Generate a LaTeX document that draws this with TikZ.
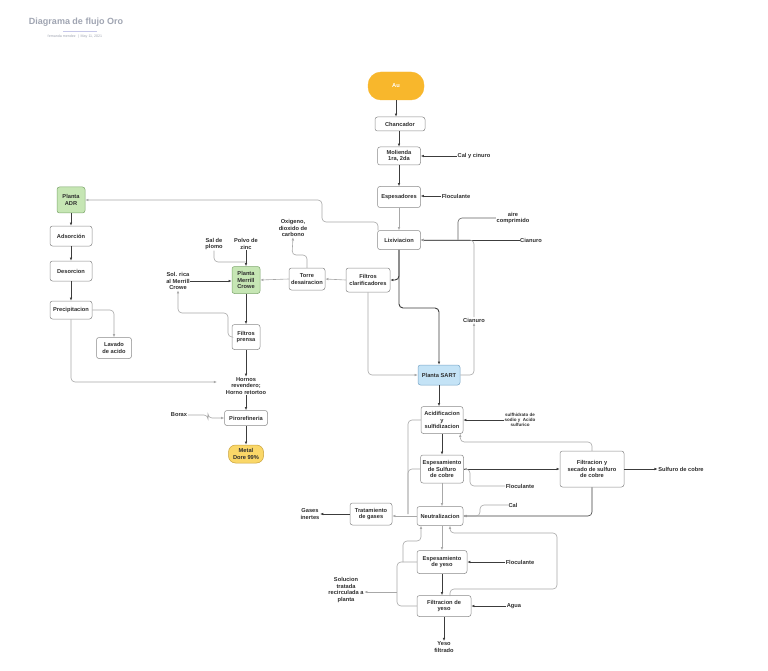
\documentclass[tikz,border=0pt]{standalone}
\usepackage{fontspec}
\setmainfont{Liberation Sans}
\usetikzlibrary{arrows.meta}
\newcommand{\myfs}{\fontsize{5.7}{6.5}\selectfont\bfseries}
\newcommand{\mysm}{\fontsize{4.5}{5.2}\selectfont\bfseries}
\definecolor{boxgray}{HTML}{8A8A8A}
\definecolor{dkline}{HTML}{3C3C3C}
\definecolor{ltline}{HTML}{A8A8A8}
\definecolor{txt}{HTML}{2E2E2E}
\definecolor{aufill}{HTML}{F8B72C}
\definecolor{grfill}{HTML}{C6E6B4}
\definecolor{grdraw}{HTML}{7FA86E}
\definecolor{blfill}{HTML}{C4E3F6}
\definecolor{bldraw}{HTML}{7AA7C8}
\definecolor{ylfill}{HTML}{FAD768}
\definecolor{yldraw}{HTML}{C9A23C}
\definecolor{ttl}{HTML}{A0A5B2}
\tikzset{
  box/.style={draw=boxgray, rounded corners=2.5pt, fill=white, line width=0.5pt,
    font=\myfs, text=txt, align=center, inner sep=0.5pt},
  lbl/.style={font=\myfs, text=txt, align=center, inner sep=0.5pt},
  tip/.style={-{Latex[length=3.2pt,width=2.6pt]}},
  dk/.style={draw=dkline, line width=0.9pt, tip, rounded corners=4pt},
  lt/.style={draw=ltline, line width=0.6pt, tip, rounded corners=4pt},
  ltn/.style={draw=ltline, line width=0.6pt, rounded corners=4pt},
}
\begin{document}
\begin{tikzpicture}[x=1pt,y=-1pt]
\useasboundingbox[fill=white] (0,0) rectangle (768,671);
% title
\node[font=\fontsize{9}{10}\selectfont\bfseries, text=ttl] (title) at (76,22) {Diagrama de flujo Oro};
\draw[draw=ttl!70!blue!40, line width=0.7pt] (63,31) -- (97,31);
\node[font=\fontsize{3.6}{4}\selectfont, text=ttl] (sub) at (75,37) {fernanda mendez \ | \ May 11, 2021};

% main column
\node[draw=aufill, fill=aufill, rounded corners=13pt, minimum width=56pt, minimum height=28pt, font=\myfs, text=white] (au) at (396,86) {Au};
\node[box, minimum width=50pt, minimum height=14pt] (chanc) at (400,124) {Chancador};
\node[box, minimum width=43pt, minimum height=18pt] (mol) at (399,156) {Molienda\\1ra, 2da};
\node[box, minimum width=43pt, minimum height=21pt] (esp) at (399,197) {Espesadores};
\node[box, minimum width=43pt, minimum height=19pt] (lix) at (399,240) {Lixiviacion};

% left column
\node[box, draw=grdraw, fill=grfill, minimum width=28pt, minimum height=26pt] (adr) at (71,200) {Planta\\ADR};
\node[box, minimum width=42pt, minimum height=20pt] (ads) at (71,236) {Adsorción};
\node[box, minimum width=42pt, minimum height=20pt] (des) at (71,271) {Desorcion};
\node[box, minimum width=42pt, minimum height=18pt] (prec) at (71,310) {Precipitacion};
\node[box, minimum width=35pt, minimum height=21pt] (lav) at (114,348) {Lavado\\de acido};

% merrill crowe
\node[box, draw=grdraw, fill=grfill, minimum width=28pt, minimum height=27pt] (mc) at (246,280) {Planta\\Merrill\\Crowe};
\node[box, minimum width=36pt, minimum height=22pt] (torre) at (307,279) {Torre\\desairacion};
\node[box, minimum width=44pt, minimum height=24pt] (filcl) at (368,280) {Filtros\\clarificadores};
\node[box, minimum width=28pt, minimum height=25pt] (filpr) at (246,337) {Filtros\\prensa};
\node[box, minimum width=43pt, minimum height=15pt] (piro) at (246,418) {Pirorefineria};
\node[box, draw=yldraw, fill=ylfill, rounded corners=7pt, minimum width=35pt, minimum height=18pt] (metal) at (246,454) {Metal\\Dore 99\%};

% SART
\node[box, draw=bldraw, fill=blfill, minimum width=42pt, minimum height=20pt] (sart) at (439,375) {Planta SART};
\node[box, minimum width=42pt, minimum height=27pt] (acid) at (442,420) {Acidificacion\\y\\sulfidizacion};
\node[box, minimum width=43pt, minimum height=28pt] (espcu) at (442,469) {Espesamiento\\de Sulfuro\\de cobre};
\node[box, minimum width=64pt, minimum height=36pt] (filtcu) at (592,469) {Filtracion y\\secado de sulfuro\\de cobre};
\node[box, minimum width=46pt, minimum height=19pt] (neut) at (440,516) {Neutralizacion};
\node[box, minimum width=42pt, minimum height=22pt] (trat) at (371,514) {Tratamiento\\de gases};
\node[box, minimum width=50pt, minimum height=23pt] (espy) at (442,562) {Espesamiento\\de yeso};
\node[box, minimum width=54pt, minimum height=21pt] (filty) at (444,606) {Filtracion de\\yeso};

% labels
\node[lbl] (calcin) at (474,156) {Cal y cinuro};
\node[lbl] (floc1) at (456,196) {Floculante};
\node[lbl] (aire) at (513,218) {aire\\comprimido};
\node[lbl] (cian1) at (531,240) {Cianuro};
\node[lbl] (salp) at (214,244) {Sal de\\plomo};
\node[lbl] (polvo) at (246,244) {Polvo de\\zinc};
\node[lbl] (solrica) at (178,281) {Sol. rica\\al Merrill\\Crowe};
\node[lbl] (oxi) at (293,228) {Oxigeno,\\dioxido de\\carbono};
\node[lbl] (hornos) at (246,386) {Hornos\\revendero;\\Horno retortoo};
\node[lbl] (borax) at (179,415) {Borax};
\node[lbl] (cian2) at (474,320) {Cianuro};
\node[lbl, font=\mysm] (sulfh) at (520,420) {sulfhidrato de\\sodio y \ Acido\\sulfurico};
\node[lbl] (floc2) at (520,486) {Floculante};
\node[lbl] (sulfcu) at (681,469) {Sulfuro de cobre};
\node[lbl] (cal) at (513,505) {Cal};
\node[lbl] (gases) at (310,514) {Gases\\inertes};
\node[lbl] (floc3) at (520,562) {Floculante};
\node[lbl] (agua) at (514,606) {Agua};
\node[lbl] (solu) at (346,590) {Solucion\\tratada\\recirculada a\\planta};
\node[lbl] (yeso) at (444,647) {Yeso\\filtrado};

% junction coordinates
\coordinate (jair) at (458,240);
\coordinate (jleft) at (408,514);
\coordinate (jsol) at (397,592);

% main column connectors
\draw[dk] (au.south) -- (au.south |- chanc.north);
\draw[dk] (chanc.south -| mol.north) -- (mol.north);
\draw[dk] (calcin.west) -- (calcin.west -| mol.east);
\draw[dk] (mol) -- (esp);
\draw[dk, line width=0.6pt] (floc1.west) -- (floc1.west -| esp.east);
\draw[lt] (esp) -- (lix);
\draw[ltn, draw=dkline!80] (aire.west) -| (jair);
\draw[dk] (cian1.west) -- (lix.east);
\draw[lt] ([xshift=-21pt]lix.north) |- (370,222) -| (322,200) -- (adr.east);
\draw[dk] (lix.south) |- (filcl.east);
\draw[dk] (lix.south) |- (439,308) -- (sart.north);

% merrill crowe connectors
\draw[lt] (filcl.west) -- (torre.east);
\draw[lt] (torre.north) |- (292,255) -- (oxi.south);
\draw[lt] (torre.west) -- (mc.east);
\draw[dk] (polvo.south) -- (mc.north);
\draw[ltn] (salp.south) |- (246,262);
\draw[dk] (solrica.east) -- (solrica.east -| mc.west);
\draw[dk] (mc) -- (filpr);
\draw[lt] (filpr.west) -- (228,337) |- (178,313) -- (solrica.south);
\draw[dk] (filpr.south) -- (hornos.north);
\draw[dk] (hornos.south) -- (piro.north);
\draw[lt] (borax.east) -- (208,415) |- (piro.west);
\draw[dk] (piro) -- (metal);

% left column connectors
\draw[dk] (adr) -- (ads);
\draw[dk] (ads) -- (des);
\draw[dk] (des) -- (prec);
\draw[lt] (prec.east) -| (lav.north);
\draw[lt] (prec.south) |- (217,382);

% SART connectors
\draw[lt] (filcl.south) |- (sart.west);
\draw[lt] (sart.east) -| (cian2.south);
\draw[lt] (cian2.north) |- (lix.east);
\draw[dk] (sart.south) -- (sart.south |- acid.north);
\draw[dk] (sulfh.west) -- (sulfh.west -| acid.east);
\draw[lt] (filtcu.north) |- (470,442) -| ([xshift=-3pt]acid.south east);
\draw[dk] (acid) -- (espcu);
\draw[dk] (espcu.east) -- (filtcu.west);
\draw[lt] (floc2.west) -| (470,469) -- (espcu.east);
\draw[dk] (filtcu.east) -- (sulfcu.west);
\draw[dk, line width=0.6pt] (filtcu.south) |- (neut.east);
\draw[lt] (cal.west) -| (480,516) -- (neut.east);
\draw[lt] (espcu.south) -- (espcu.south |- neut.north);
\draw[ltn] (acid.west) -| (jleft);
\draw[ltn] (espcu.west) -| (jleft);
\draw[lt] (neut.west) -- (neut.west -| trat.east);
\draw[dk] (trat.west) -- (trat.west -| gases.east);

% yeso connectors
\draw[lt] (neut.south -| espy.north) -- (espy.north);
\draw[ltn] (espy.west) -| (397,580) |- (filty.west);
\draw[lt] (jsol) -- (jsol -| solu.east);
\draw[lt] (403,562) |- (421,541) -- ([xshift=-19pt]neut.south);
\draw[lt] (450,596) |- (557,589) |- (450,533) -- ([xshift=10pt]neut.south);
\draw[dk] (floc3.west) -- (espy.east);
\draw[dk] (espy.south) -- (espy.south |- filty.north);
\draw[dk] (agua.west) -- (filty.east);
\draw[dk] (filty.south) -- (yeso.north);
\end{tikzpicture}
\end{document}
